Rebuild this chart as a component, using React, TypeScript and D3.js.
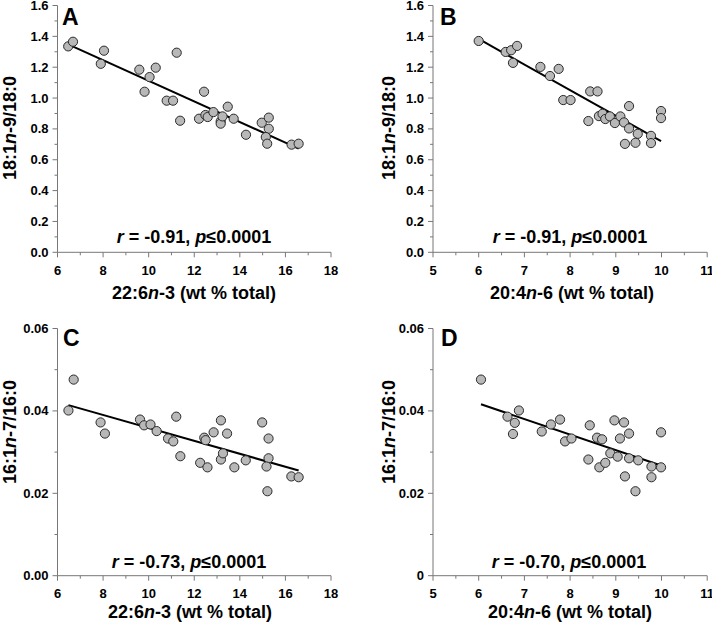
import React from "react";
import * as d3 from "d3";

// Panel A: 22:6n-3 vs 18:1n-9/18:0
const dhaA = [6.47, 6.68, 7.9, 8.04, 9.59, 9.82, 10.04, 10.31, 10.79, 11.07, 11.23, 11.38, 12.21, 12.43, 12.49, 12.59, 12.84, 13.16, 13.16, 13.24, 13.47, 13.73, 14.27, 14.96, 15.27, 15.27, 15.14, 15.2, 16.27, 16.58];
const ratioA = [1.335, 1.365, 1.222, 1.307, 1.184, 1.041, 1.136, 1.197, 0.983, 0.983, 1.294, 0.853, 0.866, 1.041, 0.89, 0.877, 0.909, 0.849, 0.834, 0.881, 0.944, 0.866, 0.762, 0.84, 0.873, 0.801, 0.747, 0.704, 0.698, 0.704];

// Panel B: 20:4n-6 vs 18:1n-9/18:0
const araB = [6.0, 6.59, 6.71, 6.75, 6.84, 7.35, 7.56, 7.75, 7.85, 8.01, 8.44, 8.6, 9.29, 9.99, 9.99, 8.4, 8.63, 8.71, 8.77, 8.87, 8.98, 9.1, 9.18, 9.29, 9.48, 9.77, 9.77, 9.2, 9.43];
const ratioB = [1.37, 1.299, 1.31, 1.228, 1.338, 1.202, 1.143, 1.189, 0.987, 0.987, 1.043, 1.043, 0.948, 0.916, 0.87, 0.851, 0.883, 0.898, 0.864, 0.881, 0.838, 0.881, 0.842, 0.803, 0.768, 0.755, 0.708, 0.703, 0.71];

// Panel C: 22:6n-3 vs 16:1n-7/16:0
const dhaC = [6.48, 6.71, 7.89, 8.08, 9.62, 9.8, 10.08, 10.35, 10.85, 11.08, 11.21, 11.39, 12.26, 12.44, 12.5, 12.58, 12.85, 13.17, 13.17, 13.26, 13.44, 13.76, 14.26, 14.98, 15.26, 15.26, 15.17, 15.21, 16.26, 16.58];
const ratioC = [0.0401, 0.0476, 0.0372, 0.0345, 0.0379, 0.0365, 0.0367, 0.0351, 0.0333, 0.0326, 0.0386, 0.029, 0.0274, 0.0335, 0.0329, 0.0263, 0.0348, 0.0377, 0.0282, 0.0297, 0.0345, 0.0263, 0.028, 0.0372, 0.0333, 0.0285, 0.0265, 0.0205, 0.0241, 0.0239];

// Panel D: 20:4n-6 vs 16:1n-7/16:0
const araD = [6.05, 6.63, 6.75, 6.79, 6.88, 7.38, 7.58, 7.78, 7.89, 8.03, 8.4, 8.43, 8.59, 8.64, 8.7, 8.77, 8.88, 8.97, 9.04, 9.09, 9.18, 9.2, 9.29, 9.29, 9.43, 9.49, 9.78, 9.78, 9.99, 9.99];
const ratioD = [0.0476, 0.0386, 0.0344, 0.0371, 0.0401, 0.035, 0.0367, 0.0379, 0.0326, 0.0333, 0.0282, 0.0365, 0.0335, 0.0263, 0.0331, 0.0274, 0.0297, 0.0377, 0.0289, 0.0333, 0.0372, 0.0241, 0.0285, 0.0345, 0.0205, 0.028, 0.0265, 0.0239, 0.0263, 0.0348];

const xTicksDHA = [6, 8, 10, 12, 14, 16, 18];
const xMinorDHA = [7, 9, 11, 13, 15, 17];
const xTicksARA = [5, 6, 7, 8, 9, 10, 11];
const xMinorARA = [5.5, 6.5, 7.5, 8.5, 9.5, 10.5];
const yTicksOleic = [0, 0.2, 0.4, 0.6, 0.8, 1.0, 1.2, 1.4, 1.6];
const yLabelsOleic = ["0.0", "0.2", "0.4", "0.6", "0.8", "1.0", "1.2", "1.4", "1.6"];
const yMinorOleic = [0.1, 0.3, 0.5, 0.7, 0.9, 1.1, 1.3, 1.5];
const yTicksPalm = [0, 0.02, 0.04, 0.06];
const yLabelsPalmC = ["0.00", "0.02", "0.04", "0.06"];
const yLabelsPalmD = ["0", "0.02", "0.04", "0.06"];
const yMinorPalm = [0.01, 0.03, 0.05];

const FONT = "'Liberation Sans', Arial, Helvetica, sans-serif";

type PanelProps = {
  letter: string;
  xs: number[];
  ys: number[];
  xDomain: [number, number];
  yDomain: [number, number];
  xRange: [number, number];
  yRange: [number, number];
  xTicks: number[];
  xMinor: number[];
  yTicks: number[];
  yLabels: string[];
  yMinor: number[];
  xTitle: [string, string, string];
  yTitle: [string, string, string];
  stat: [string, string];
  statPos: [number, number];
  xTitlePos: [number, number];
  yTitlePos: [number, number];
  letterPos: [number, number];
};

function Panel(p: PanelProps) {
  const x = d3.scaleLinear().domain(p.xDomain).range(p.xRange);
  const y = d3.scaleLinear().domain(p.yDomain).range(p.yRange);
  const pts = p.xs.map((v, i) => [v, p.ys[i]] as [number, number]);
  const mx = d3.mean(p.xs) as number;
  const my = d3.mean(p.ys) as number;
  let sxy = 0, sxx = 0;
  pts.forEach(([a, b]) => { sxy += (a - mx) * (b - my); sxx += (a - mx) * (a - mx); });
  const slope = sxy / sxx;
  const icpt = my - slope * mx;
  const [x0, x1] = d3.extent(p.xs) as [number, number];
  const line = d3.line<number>().x((v) => x(v)).y((v) => y(icpt + slope * v));
  const axisColor = "#777";
  const left = p.xRange[0];
  const bottom = p.yRange[0];
  return (
    <g fontFamily={FONT} fontWeight="bold">
      {/* axes */}
      <line x1={left} x2={left} y1={p.yRange[1]} y2={bottom} stroke={axisColor} strokeWidth={1} />
      <line x1={left} x2={p.xRange[1]} y1={bottom} y2={bottom} stroke={axisColor} strokeWidth={1} />
      {p.yTicks.map((t, i) => (
        <g key={"yt" + i}>
          <line x1={left - 5} x2={left} y1={y(t)} y2={y(t)} stroke={axisColor} />
          <text x={left - 9} y={y(t) + 4.5} textAnchor="end" fontSize={13}>{p.yLabels[i]}</text>
        </g>
      ))}
      {p.yMinor.map((t, i) => (
        <line key={"ym" + i} x1={left - 3} x2={left} y1={y(t)} y2={y(t)} stroke={axisColor} />
      ))}
      {p.xTicks.map((t, i) => (
        <g key={"xt" + i}>
          <line x1={x(t)} x2={x(t)} y1={bottom} y2={bottom + 5} stroke={axisColor} />
          <text x={x(t)} y={bottom + 22.5} textAnchor="middle" fontSize={13}>{String(t)}</text>
        </g>
      ))}
      {p.xMinor.map((t, i) => (
        <line key={"xm" + i} x1={x(t)} x2={x(t)} y1={bottom} y2={bottom + 3} stroke={axisColor} />
      ))}
      {/* regression line */}
      <path d={line([x0, x1]) || ""} stroke="#000" strokeWidth={2} fill="none" />
      {/* points */}
      {pts.map(([a, b], i) => (
        <circle key={"p" + i} cx={x(a)} cy={y(b)} r={4.6} fill="#b8b8b8" stroke="#2a2a2a" strokeWidth={1} />
      ))}
      {/* letter */}
      <text x={p.letterPos[0]} y={p.letterPos[1]} fontSize={23}>{p.letter}</text>
      {/* stat */}
      <text x={p.statPos[0]} y={p.statPos[1]} textAnchor="middle" fontSize={18}>
        <tspan fontStyle="italic">r</tspan>
        <tspan>{p.stat[0]}</tspan>
        <tspan fontStyle="italic">p</tspan>
        <tspan>{p.stat[1]}</tspan>
      </text>
      {/* x title */}
      <text x={p.xTitlePos[0]} y={p.xTitlePos[1]} textAnchor="middle" fontSize={18}>
        <tspan>{p.xTitle[0]}</tspan>
        <tspan fontStyle="italic">{p.xTitle[1]}</tspan>
        <tspan>{p.xTitle[2]}</tspan>
      </text>
      {/* y title */}
      <text transform={`translate(${p.yTitlePos[0]},${p.yTitlePos[1]}) rotate(-90)`} textAnchor="middle" fontSize={18}>
        <tspan>{p.yTitle[0]}</tspan>
        <tspan fontStyle="italic">{p.yTitle[1]}</tspan>
        <tspan>{p.yTitle[2]}</tspan>
      </text>
    </g>
  );
}

export default function App() {
  return (
    <div style={{ position: "absolute", left: 0, top: 0 }}>
      <svg width={712} height={623} style={{ display: "block", background: "#fff" }}>
        <Panel
          letter="A" xs={dhaA} ys={ratioA}
          xDomain={[6, 18]} yDomain={[0, 1.6]} xRange={[57.5, 331]} yRange={[252.3, 5.5]}
          xTicks={xTicksDHA} xMinor={xMinorDHA} yTicks={yTicksOleic} yLabels={yLabelsOleic} yMinor={yMinorOleic}
          xTitle={["22:6", "n", "-3 (wt % total)"]} yTitle={["18:1", "n", "-9/18:0"]}
          stat={[" = -0.91, ", "≤0.0001"]} statPos={[194, 243]} xTitlePos={[194, 298.5]} yTitlePos={[15.5, 128]} letterPos={[62, 25]}
        />
        <Panel
          letter="B" xs={araB} ys={ratioB}
          xDomain={[5, 11]} yDomain={[0, 1.6]} xRange={[433, 707.2]} yRange={[252.3, 5.5]}
          xTicks={xTicksARA} xMinor={xMinorARA} yTicks={yTicksOleic} yLabels={yLabelsOleic} yMinor={yMinorOleic}
          xTitle={["20:4", "n", "-6 (wt % total)"]} yTitle={["18:1", "n", "-9/18:0"]}
          stat={[" = -0.91, ", "≤0.0001"]} statPos={[570, 243]} xTitlePos={[572, 298.5]} yTitlePos={[395, 128]} letterPos={[440, 25]}
        />
        <Panel
          letter="C" xs={dhaC} ys={ratioC}
          xDomain={[6, 18]} yDomain={[0, 0.06]} xRange={[57.5, 331]} yRange={[575.7, 328.5]}
          xTicks={xTicksDHA} xMinor={xMinorDHA} yTicks={yTicksPalm} yLabels={yLabelsPalmC} yMinor={yMinorPalm}
          xTitle={["22:6", "n", "-3 (wt % total)"]} yTitle={["16:1", "n", "-7/16:0"]}
          stat={[" = -0.73, ", "≤0.0001"]} statPos={[189, 567.5]} xTitlePos={[190, 618]} yTitlePos={[15.5, 432]} letterPos={[63, 346]}
        />
        <Panel
          letter="D" xs={araD} ys={ratioD}
          xDomain={[5, 11]} yDomain={[0, 0.06]} xRange={[433, 707.2]} yRange={[575.7, 328.5]}
          xTicks={xTicksARA} xMinor={xMinorARA} yTicks={yTicksPalm} yLabels={yLabelsPalmD} yMinor={yMinorPalm}
          xTitle={["20:4", "n", "-6 (wt % total)"]} yTitle={["16:1", "n", "-7/16:0"]}
          stat={[" = -0.70, ", "≤0.0001"]} statPos={[569, 567.5]} xTitlePos={[570, 618]} yTitlePos={[395, 432]} letterPos={[441, 346]}
        />
      </svg>
    </div>
  );
}
